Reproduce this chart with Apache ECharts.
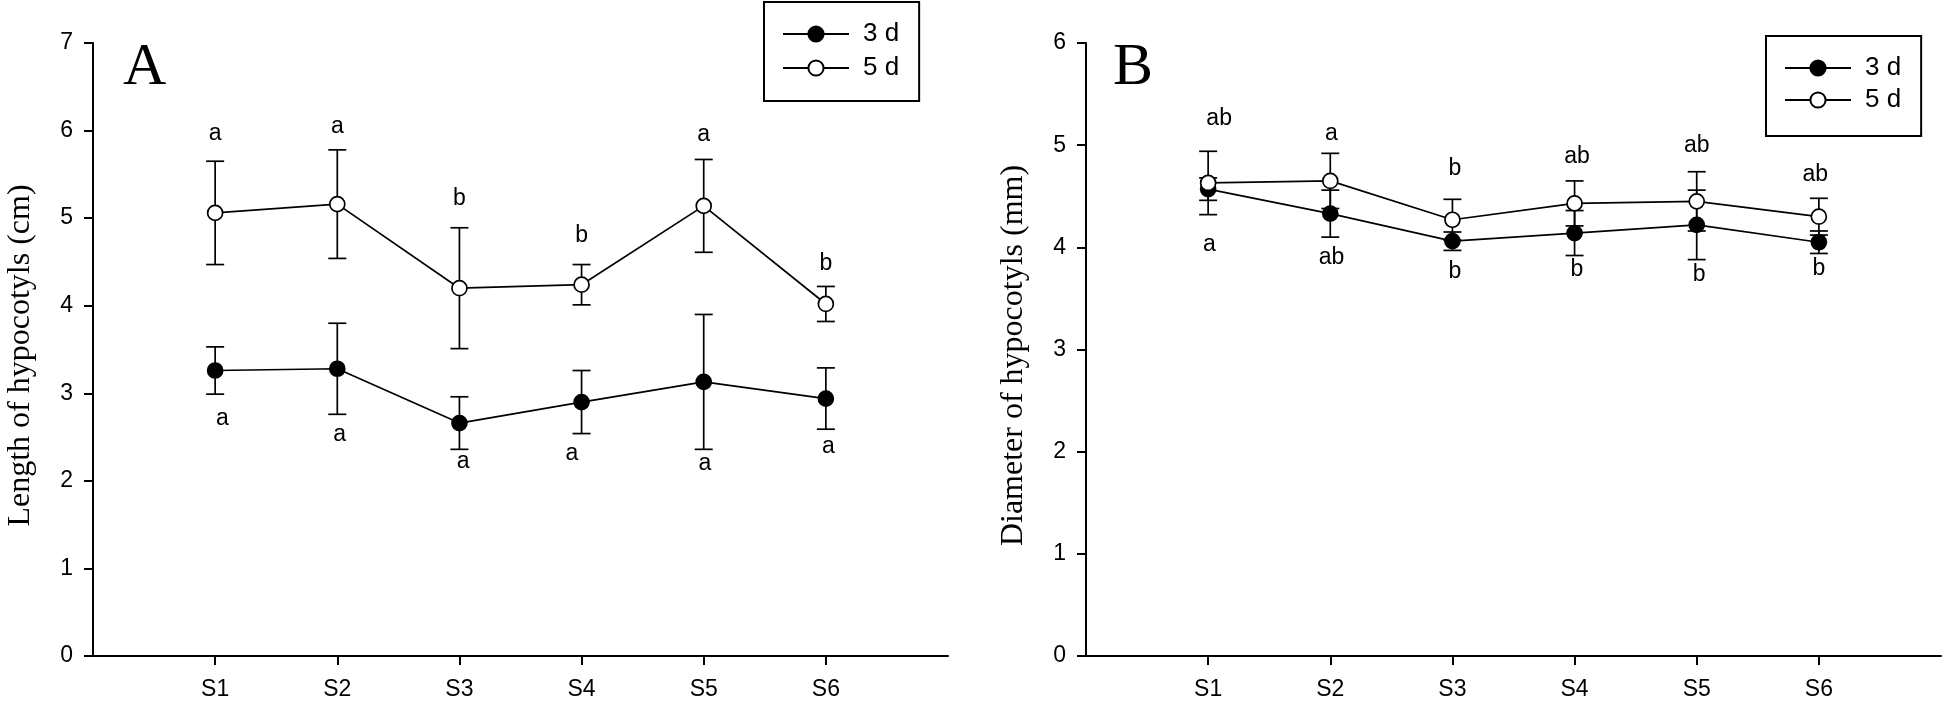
<!DOCTYPE html>
<html><head><meta charset="utf-8">
<script src="https://cdn.jsdelivr.net/npm/echarts@6/dist/echarts.min.js"></script>
<style>html,body{margin:0;padding:0;background:#fff}#c{width:1944px;height:703px}</style>
</head><body><div id="c"></div>
<script>
// ---- data ----
const categories = ['S1', 'S2', 'S3', 'S4', 'S5', 'S6'];
const seriesNames = ['3 d', '5 d'];
const catPositions = [1, 2, 3, 4, 5, 6];

// Panel A: length of hypocotyls (cm)
const length3d   = [3.26, 3.28, 2.66, 2.90, 3.13, 2.94];
const length3dSE = [0.27, 0.52, 0.30, 0.36, 0.77, 0.35];
const length5d   = [5.06, 5.16, 4.20, 4.24, 5.14, 4.02];
const length5dSE = [0.59, 0.62, 0.69, 0.23, 0.53, 0.20];
const lengthLetters5d  = ['a', 'a', 'b', 'b', 'a', 'b'];
const lengthLetters5dY = [5.97, 6.04, 5.22, 4.80, 5.95, 4.48];
const lengthLetters5dX = [1.0, 2.0, 3.0, 4.0, 5.0, 6.0];
const lengthLetters3d  = ['a', 'a', 'a', 'a', 'a', 'a'];
const lengthLetters3dY = [2.71, 2.53, 2.22, 2.31, 2.20, 2.39];
const lengthLetters3dX = [1.06, 2.02, 3.03, 3.92, 5.01, 6.02];

// Panel B: diameter of hypocotyls (mm)
const diam3d   = [4.57, 4.33, 4.06, 4.14, 4.22, 4.05];
const diam3dSE = [0.11, 0.23, 0.09, 0.22, 0.34, 0.11];
const diam5d   = [4.63, 4.65, 4.27, 4.43, 4.45, 4.30];
const diam5dSE = [0.31, 0.27, 0.20, 0.22, 0.29, 0.18];
const diamLetters5d  = ['ab', 'a', 'b', 'ab', 'ab', 'ab'];
const diamLetters5dY = [5.26, 5.11, 4.77, 4.89, 5.00, 4.71];
const diamLetters5dX = [1.09, 2.01, 3.02, 4.02, 5.0, 5.97];
const diamLetters3d  = ['a', 'ab', 'b', 'b', 'b', 'b'];
const diamLetters3dY = [4.03, 3.90, 3.76, 3.78, 3.73, 3.79];
const diamLetters3dX = [1.01, 2.01, 3.02, 4.02, 5.02, 6.0];

const yTicksA = [0, 1, 2, 3, 4, 5, 6, 7];
const yTicksB = [0, 1, 2, 3, 4, 5, 6];

// ---- chart ----
const SANS = 'Liberation Sans';
const SERIF = 'Liberation Serif';
const chart = echarts.init(document.getElementById('c'), null, {renderer: 'canvas'});

function xAxisCfg(gi) {
  return {
    type: 'value', gridIndex: gi, min: 0, max: 7, interval: 1,
    splitLine: {show: false},
    axisLine: {lineStyle: {color: '#000', width: 2}},
    axisTick: {show: true, length: 9, inside: false, customValues: catPositions, lineStyle: {color: '#000', width: 2}},
    axisLabel: {customValues: catPositions, formatter: v => categories[v - 1] || '', margin: 22,
      fontSize: 23, fontFamily: SANS, color: '#000'}
  };
}
function yAxisCfg(gi, ticks, name) {
  return {
    type: 'value', gridIndex: gi, min: ticks[0], max: ticks[ticks.length - 1], interval: 1,
    splitLine: {show: false},
    axisLine: {show: true, lineStyle: {color: '#000', width: 2}},
    axisTick: {show: true, length: 9, lineStyle: {color: '#000', width: 2}},
    axisLabel: {margin: 20, fontSize: 23, fontFamily: SANS, color: '#000'},
    name: name, nameLocation: 'middle', nameGap: 56,
    nameTextStyle: {fontFamily: SERIF, fontSize: 32, color: '#000', padding: [0, 12, 0, 0]}
  };
}
function lineSeries(name, gi, vals, filled) {
  return {
    name: name, type: 'line', xAxisIndex: gi, yAxisIndex: gi, z: 5,
    data: vals.map((v, i) => [catPositions[i], v]),
    symbol: 'circle', symbolSize: 15, silent: true,
    lineStyle: {color: '#000', width: 1.7},
    itemStyle: {color: filled ? '#000' : '#fff', borderColor: '#000', borderWidth: 1.7}
  };
}
function errSeries(gi, vals, se) {
  return {
    type: 'custom', xAxisIndex: gi, yAxisIndex: gi, z: 2, silent: true,
    dimensions: ['x', 'lo', 'hi'],
    encode: {x: 0, y: [1, 2]},
    data: vals.map((v, i) => [catPositions[i], v - se[i], v + se[i]]),
    renderItem(params, api) {
      const x = api.value(0);
      const lo = api.coord([x, api.value(1)]);
      const hi = api.coord([x, api.value(2)]);
      const hw = 9;
      const st = {stroke: '#000', lineWidth: 1.7};
      return {type: 'group', children: [
        {type: 'line', shape: {x1: lo[0], y1: lo[1], x2: hi[0], y2: hi[1]}, style: st},
        {type: 'line', shape: {x1: lo[0] - hw, y1: lo[1], x2: lo[0] + hw, y2: lo[1]}, style: st},
        {type: 'line', shape: {x1: hi[0] - hw, y1: hi[1], x2: hi[0] + hw, y2: hi[1]}, style: st}
      ]};
    }
  };
}
function letterSeries(gi, xs, ys, letters) {
  return {
    type: 'custom', xAxisIndex: gi, yAxisIndex: gi, z: 6, silent: true,
    dimensions: ['x', 'y'], encode: {x: 0, y: 1},
    data: xs.map((x, i) => [x, ys[i]]),
    renderItem(params, api) {
      const p = api.coord([api.value(0), api.value(1)]);
      return {type: 'text', x: p[0], y: p[1], style: {
        text: letters[params.dataIndex], fontSize: 23, fontFamily: SANS, fill: '#000',
        align: 'center', verticalAlign: 'middle'}};
    }
  };
}
function legendCfg(left, top, gap, padBottom) {
  return {
    left: left, top: top, orient: 'vertical', data: seriesNames, selectedMode: false,
    itemWidth: 66, itemHeight: 19, itemGap: gap,
    borderColor: '#000', borderWidth: 2, borderRadius: 0, padding: [19, 20, padBottom, 18],
    textStyle: {fontSize: 26, fontFamily: SANS, color: '#000', padding: [0, 0, 0, 9]}
  };
}

chart.setOption({
  animation: false,
  backgroundColor: '#fff',
  title: [
    {text: 'A', left: 123, top: 38, padding: 0, textStyle: {fontFamily: SERIF, fontSize: 60, fontWeight: 'normal', color: '#000'}},
    {text: 'B', left: 1113, top: 38, padding: 0, textStyle: {fontFamily: SERIF, fontSize: 60, fontWeight: 'normal', color: '#000'}}
  ],
  legend: [legendCfg(764, 2, 8, 20), legendCfg(1766, 36, 6, 23)],
  grid: [
    {left: 93, top: 43, width: 855, height: 613},
    {left: 1086, top: 43, width: 855, height: 613}
  ],
  xAxis: [xAxisCfg(0), xAxisCfg(1)],
  yAxis: [yAxisCfg(0, yTicksA, 'Length of hypocotyls (cm)'), yAxisCfg(1, yTicksB, 'Diameter of hypocotyls (mm)')],
  series: [
    errSeries(0, length3d, length3dSE),
    errSeries(0, length5d, length5dSE),
    lineSeries(seriesNames[0], 0, length3d, true),
    lineSeries(seriesNames[1], 0, length5d, false),
    letterSeries(0, lengthLetters5dX, lengthLetters5dY, lengthLetters5d),
    letterSeries(0, lengthLetters3dX, lengthLetters3dY, lengthLetters3d),
    errSeries(1, diam3d, diam3dSE),
    errSeries(1, diam5d, diam5dSE),
    lineSeries(seriesNames[0], 1, diam3d, true),
    lineSeries(seriesNames[1], 1, diam5d, false),
    letterSeries(1, diamLetters5dX, diamLetters5dY, diamLetters5d),
    letterSeries(1, diamLetters3dX, diamLetters3dY, diamLetters3d)
  ]
});
</script></body></html>
